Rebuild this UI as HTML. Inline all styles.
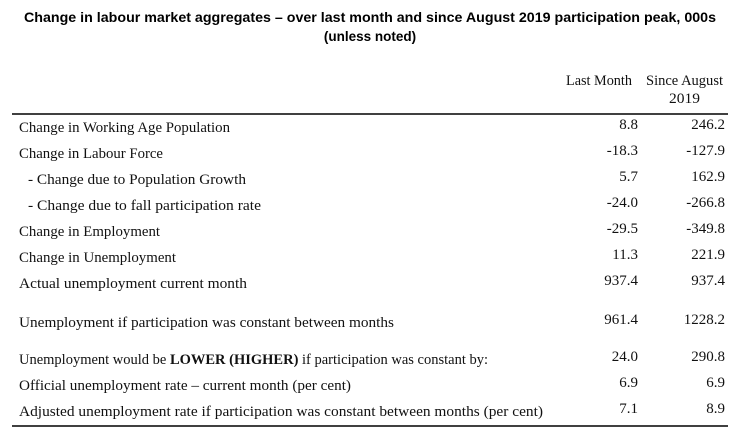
<!DOCTYPE html>
<html><head><meta charset="utf-8"><style>
html,body{margin:0;padding:0;background:#fff;}
svg{display:block;}
.t{font-family:"Liberation Sans",Arial,sans-serif;font-weight:bold;font-size:13.5px;fill:#000;}
.s{font-family:"Liberation Serif",serif;font-size:15px;fill:#111;}
</style></head><body>
<svg width="740" height="445" viewBox="0 0 740 445">
<text class="t" x="370" y="22" text-anchor="middle" textLength="692" lengthAdjust="spacingAndGlyphs">Change in labour market aggregates – over last month and since August 2019 participation peak, 000s</text>
<text class="t" x="370" y="41" text-anchor="middle">(unless noted)</text>
<text class="s" x="566" y="85" textLength="66" lengthAdjust="spacingAndGlyphs">Last Month</text>
<text class="s" x="646" y="85" textLength="77" lengthAdjust="spacingAndGlyphs">Since August</text>
<text class="s" x="669" y="103" textLength="31" lengthAdjust="spacingAndGlyphs">2019</text>
<line x1="12" y1="114" x2="728" y2="114" stroke="#000" stroke-width="1.5"/>
<line x1="12" y1="426" x2="728" y2="426" stroke="#000" stroke-width="1.5"/>
<g id="rows"></g>
</svg>
<script>
const labels=["Change in Working Age Population","Change in Labour Force","- Change due to Population Growth","- Change due to fall participation rate","Change in Employment","Change in Unemployment","Actual unemployment current month","Unemployment if participation was constant between months","Unemployment would be LOWER (HIGHER) if participation was constant by:","Official unemployment rate – current month (per cent)","Adjusted unemployment rate if participation was constant between months (per cent)"];
const lastMonth=["8.8","-18.3","5.7","-24.0","-29.5","11.3","937.4","961.4","24.0","6.9","7.1"];
const sinceAug=["246.2","-127.9","162.9","-266.8","-349.8","221.9","937.4","1228.2","290.8","6.9","8.9"];
const rowY=[127,153,179,205,231,257,283,322,359,385,411];
const labelX=[19,19,28,28,19,19,19,19,19,19,19];
const labelEnd=[230,163,246,261,160,176,247,394,488,351,543];
const g=document.getElementById('rows');
const NS="http://www.w3.org/2000/svg";
function mk(x,y,w,anchor){const t=document.createElementNS(NS,'text');t.setAttribute('class','s');t.setAttribute('x',x);t.setAttribute('y',y);if(anchor)t.setAttribute('text-anchor',anchor);if(w){t.setAttribute('textLength',w);t.setAttribute('lengthAdjust','spacingAndGlyphs');}g.appendChild(t);return t;}
labels.forEach((l,i)=>{
  const t=mk(labelX[i],rowY[i]+5,labelEnd[i]-labelX[i]);
  
  
  if(l.indexOf('LOWER (HIGHER)')>=0){
    const p=l.split('LOWER (HIGHER)');
    t.appendChild(document.createTextNode(p[0]));
    const b=document.createElementNS(NS,'tspan');b.setAttribute('font-weight','bold');b.textContent='LOWER (HIGHER)';t.appendChild(b);
    t.appendChild(document.createTextNode(p[1]));
  } else t.textContent=l;
  const a=mk(638,rowY[i]+2,null,'end');a.textContent=lastMonth[i];
  
  
  const b2=mk(725,rowY[i]+2,null,'end');b2.textContent=sinceAug[i];
  
  
});
</script>
</body></html>
